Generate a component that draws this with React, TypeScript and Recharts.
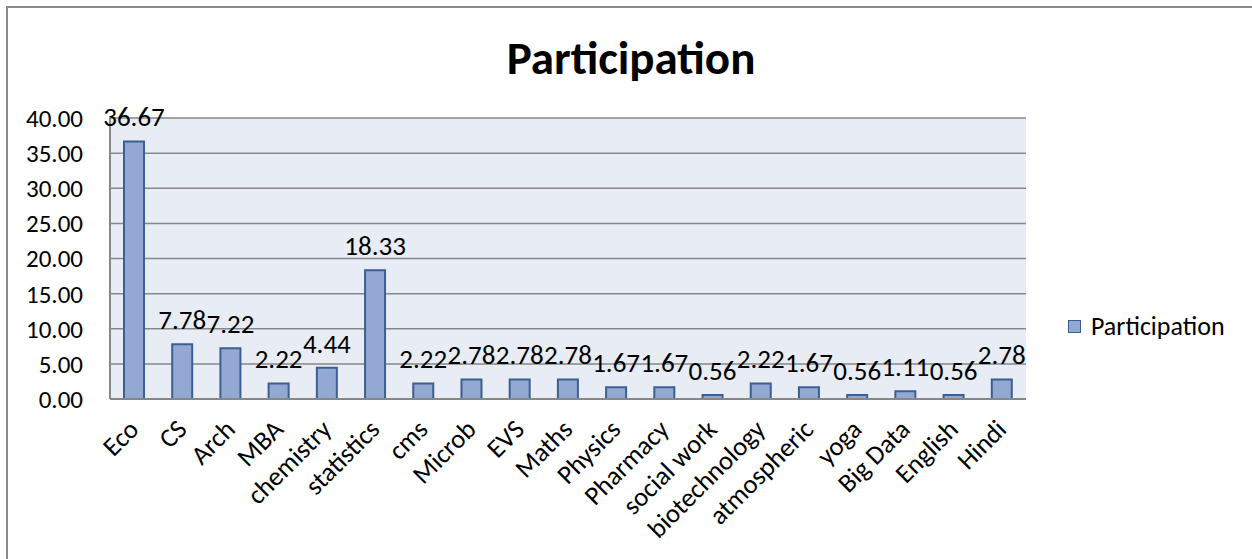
import React from "react";
import { BarChart, Bar, XAxis, YAxis, CartesianGrid, LabelList } from "recharts";

const categories = ["Eco", "CS", "Arch", "MBA", "chemistry", "statistics", "cms", "Microb", "EVS", "Maths", "Physics", "Pharmacy", "social work", "biotechnology", "atmospheric", "yoga", "Big Data", "English", "Hindi"];
const participation = [36.67, 7.78, 7.22, 2.22, 4.44, 18.33, 2.22, 2.78, 2.78, 2.78, 1.67, 1.67, 0.56, 2.22, 1.67, 0.56, 1.11, 0.56, 2.78];
const yTicks = [0, 5, 10, 15, 20, 25, 30, 35, 40];

const data = categories.map((c, i) => ({ name: c, Participation: participation[i] }));

const FONT = "Carlito, Calibri, Lato, 'Open Sans', sans-serif";

const XTick = (props: any) => {
  const { x, y, payload } = props;
  const tx = x + 6;
  const ty = y + 24;
  return (
    <text
      x={tx}
      y={ty}
      textAnchor="end"
      fontSize={26.5}
      fontFamily={FONT}
      fill="#000"
      transform={`rotate(-45 ${tx} ${ty})`}
    >
      {payload.value}
    </text>
  );
};

export default function App() {
  return (
    <div style={{ position: "absolute", left: 0, top: 0, width: 1252, height: 559, overflow: "hidden", background: "#fff" }}>
      <div style={{ position: "absolute", left: 6, top: 6, width: 1300, height: 600, border: "2px solid #8a8a8a", boxSizing: "border-box" }} />
      <div style={{ position: "absolute", left: 0, top: 28, width: 1262, textAlign: "center", fontFamily: FONT, fontWeight: "bold", fontSize: 47, lineHeight: "60px", color: "#000" }}>
        Participation
      </div>
      <div style={{ position: "absolute", left: 1068, top: 311, display: "flex", alignItems: "center", fontFamily: FONT, fontSize: 26, lineHeight: "30px", color: "#000" }}>
        <span style={{ display: "inline-block", width: 11, height: 11, background: "#94a9d1", border: "1.5px solid #3b5f92", marginRight: 10 }} />
        <span>Participation</span>
      </div>
      <div style={{ position: "absolute", left: 0, top: 0 }}>
        <BarChart width={1252} height={559} data={data} margin={{ top: 118, right: 226, left: 0, bottom: 0 }} barSize={20}>
          <CartesianGrid vertical={false} stroke="#878787" strokeWidth={1.5} fill="#e8ecf4" />
          <XAxis
            dataKey="name"
            height={160}
            interval={0}
            tick={<XTick />}
            tickLine={false}
            axisLine={{ stroke: "#878787", strokeWidth: 2 }}
          />
          <YAxis
            width={110}
            domain={[0, 40]}
            ticks={yTicks}
            interval={0}
            tickFormatter={(v: number) => v.toFixed(2)}
            tick={{ fontSize: 25, fontFamily: FONT, fill: "#000" }}
            tickLine={false}
            tickSize={0}
            tickMargin={27}
            axisLine={{ stroke: "#878787", strokeWidth: 2 }}
          />
          <Bar dataKey="Participation" fill="#94a9d1" stroke="#3b5f92" strokeWidth={2} isAnimationActive={false}>
            <LabelList
              dataKey="Participation"
              position="top"
              offset={15}
              formatter={(v: any) => Number(v).toFixed(2)}
              style={{ fontSize: 27, fontFamily: FONT, fill: "#000" }}
            />
          </Bar>
        </BarChart>
      </div>
    </div>
  );
}
